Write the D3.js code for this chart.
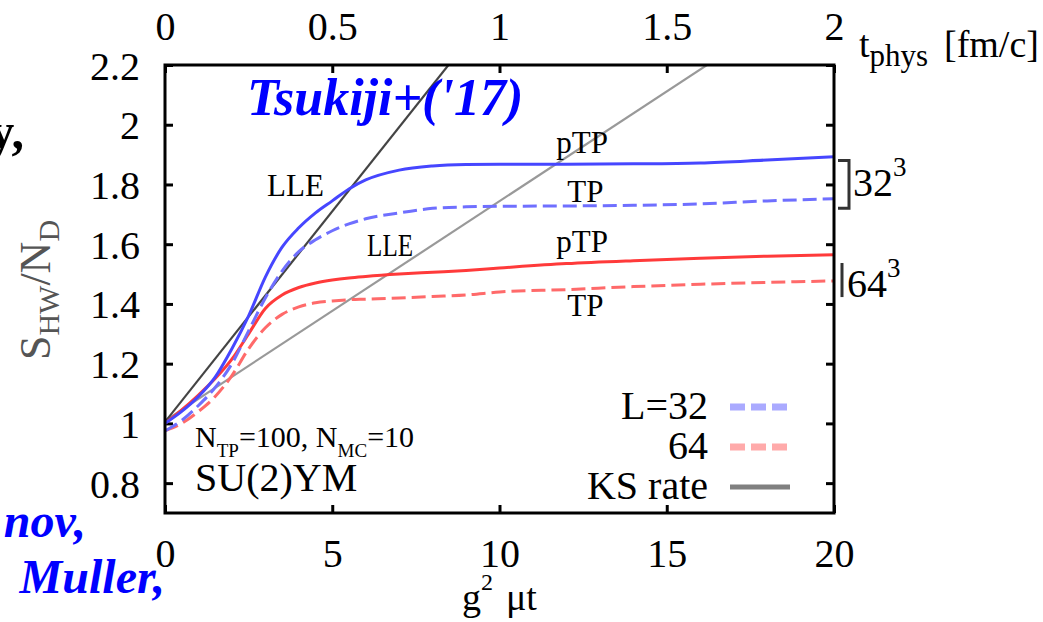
<!DOCTYPE html>
<html>
<head>
<meta charset="utf-8">
<script src="https://cdn.jsdelivr.net/npm/d3@7"></script>
<style>
  body { margin: 0; background: #fff; }
  text { font-family: "Liberation Serif", "DejaVu Serif", serif; }
</style>
</head>
<body>
<div id="chart"></div>
<script>
// g^2 mu t sample points shared by all four curves
var tVals = [0, 0.5, 1, 1.5, 2, 2.5, 3, 3.5, 4, 4.5, 5, 5.5, 6, 7, 8, 9, 10, 12, 14, 16, 18, 20];
var l32pTP = [1.0, 1.04, 1.09, 1.155, 1.25, 1.36, 1.49, 1.59, 1.655, 1.705, 1.745, 1.785, 1.815, 1.848, 1.862, 1.867, 1.868, 1.868, 1.869, 1.872, 1.882, 1.893];
var l32TP  = [0.975, 1.01, 1.06, 1.12, 1.2, 1.31, 1.42, 1.51, 1.575, 1.615, 1.645, 1.668, 1.685, 1.705, 1.72, 1.725, 1.727, 1.728, 1.73, 1.735, 1.745, 1.752];
var l64pTP = [1.0, 1.045, 1.095, 1.15, 1.215, 1.3, 1.385, 1.43, 1.455, 1.47, 1.48, 1.487, 1.492, 1.5, 1.506, 1.512, 1.52, 1.535, 1.545, 1.553, 1.56, 1.565];
var l64TP  = [0.975, 1.0, 1.04, 1.09, 1.16, 1.25, 1.32, 1.365, 1.39, 1.404, 1.41, 1.414, 1.416, 1.42, 1.425, 1.43, 1.44, 1.448, 1.458, 1.466, 1.472, 1.477];

// KS rate lines (straight), end points
var ksX  = [0, 20];
var ks32 = [1.005, 3.825];
var ks64 = [1.009, 2.479];

var xTicks = [0, 5, 10, 15, 20];
var xTopTicks = [0, 0.5, 1, 1.5, 2];
var yTicks = [0.8, 1, 1.2, 1.4, 1.6, 1.8, 2, 2.2];

var annoText = ["LLE", "LLE", "pTP", "TP", "pTP", "TP"];
var annoX = [3.9, 6.73, 12.47, 12.57, 12.47, 12.57];
var annoY = [1.76, 1.56, 1.907, 1.74, 1.573, 1.36];

var legendLabels = ["L=32", "64", "KS rate"];

var width = 1043, height = 622;
var pL = 165, pR = 834, pT = 65, pB = 513;

var svg = d3.select("#chart").append("svg")
    .attr("width", width)
    .attr("height", height);

svg.append("rect").attr("width", width).attr("height", height).attr("fill", "#fff");

var x = d3.scaleLinear().domain([0, 20]).range([pL, pR]);
var xTop = d3.scaleLinear().domain([0, 2]).range([pL, pR]);
var y = d3.scaleLinear().domain([0.7, 2.2]).range([pB, pT]);

svg.append("clipPath").attr("id", "plotclip")
  .append("rect")
    .attr("x", pL).attr("y", pT)
    .attr("width", pR - pL).attr("height", pB - pT);

var fmt = function(d) { return String(d); };

// axes
var gx = svg.append("g")
    .attr("transform", "translate(0," + pB + ")")
    .call(d3.axisBottom(x).tickValues(xTicks).tickFormat(fmt).tickSizeInner(-8).tickSizeOuter(0).tickPadding(26));
var gxTop = svg.append("g")
    .attr("transform", "translate(0," + pT + ")")
    .call(d3.axisTop(xTop).tickValues(xTopTicks).tickFormat(fmt).tickSizeInner(-8).tickSizeOuter(0).tickPadding(25));
var gy = svg.append("g")
    .attr("transform", "translate(" + pL + ",0)")
    .call(d3.axisLeft(y).tickValues(yTicks).tickFormat(fmt).tickSizeInner(-8).tickSizeOuter(0).tickPadding(25));
var gyRight = svg.append("g")
    .attr("transform", "translate(" + pR + ",0)")
    .call(d3.axisRight(y).tickValues(yTicks).tickFormat("").tickSizeInner(-8).tickSizeOuter(0));

[gx, gxTop, gy, gyRight].forEach(function(g) {
  g.select(".domain").remove();
  g.selectAll(".tick line").attr("stroke", "#000").attr("stroke-width", 3);
  g.selectAll(".tick text")
      .attr("fill", "#000")
      .style("font-size", "40px")
      .style("font-family", "'Liberation Serif', serif");
});
gy.selectAll(".tick text").attr("dy", "0.35em");

// curves
var plot = svg.append("g").attr("clip-path", "url(#plotclip)");

var line = d3.line()
    .x(function(d) { return x(d[0]); })
    .y(function(d) { return y(d[1]); })
    .curve(d3.curveMonotoneX);
var straight = d3.line()
    .x(function(d) { return x(d[0]); })
    .y(function(d) { return y(d[1]); });

function pairs(xs, ys) { return xs.map(function(v, i) { return [v, ys[i]]; }); }

plot.append("path").datum(pairs(ksX, ks64))
    .attr("d", straight)
    .attr("fill", "none").attr("stroke", "#999").attr("stroke-width", 2.2);
plot.append("path").datum(pairs(ksX, ks32))
    .attr("d", straight)
    .attr("fill", "none").attr("stroke", "#444").attr("stroke-width", 2.2);

var series = [
  { vals: l64TP,  color: "#ff6a6a", dash: "14,6" },
  { vals: l64pTP, color: "#ff3a3a", dash: null },
  { vals: l32TP,  color: "#6f6fff", dash: "14,6" },
  { vals: l32pTP, color: "#4646ff", dash: null }
];
series.forEach(function(s) {
  plot.append("path").datum(pairs(tVals, s.vals))
      .attr("d", line)
      .attr("fill", "none")
      .attr("stroke", s.color)
      .attr("stroke-width", 3)
      .attr("stroke-dasharray", s.dash);
});

// frame
svg.append("rect")
    .attr("x", pL).attr("y", pT)
    .attr("width", pR - pL).attr("height", pB - pT)
    .attr("fill", "none").attr("stroke", "#000").attr("stroke-width", 3);

// annotations on curves
annoText.forEach(function(t, i) {
  var tx = svg.append("text")
      .attr("x", x(annoX[i])).attr("y", y(annoY[i]))
      .attr("text-anchor", "middle")
      .style("font-size", "31px")
      .text(t);
  if (i === 1) tx.attr("textLength", 46).attr("lengthAdjust", "spacingAndGlyphs");
});

// N_TP, N_MC
var nt = svg.append("text").attr("x", x(0.9)).attr("y", y(0.92)).style("font-size", "30px");
nt.append("tspan").text("N");
nt.append("tspan").attr("dy", 10).style("font-size", "19px").text("TP");
nt.append("tspan").attr("dy", -10).text("=100, N");
nt.append("tspan").attr("dy", 10).style("font-size", "19px").text("MC");
nt.append("tspan").attr("dy", -10).text("=10");

svg.append("text").attr("x", x(0.9)).attr("y", y(0.773))
    .style("font-size", "40px").text("SU(2)YM");

// legend
var legColors = ["#aaaaff", "#ffaaaa", "#808080"];
var legDash = ["15,6", "15,6", null];
var legWidth = [7, 7, 5];
legendLabels.forEach(function(t, i) {
  var by = pB - 94 + i * 40;
  svg.append("text")
      .attr("x", pR - 126).attr("y", by)
      .attr("text-anchor", "end")
      .style("font-size", "40px")
      .text(t);
  svg.append("line")
      .attr("x1", pR - 104).attr("x2", pR - 44)
      .attr("y1", by - 12).attr("y2", by - 12)
      .attr("stroke", legColors[i])
      .attr("stroke-width", legWidth[i])
      .attr("stroke-dasharray", legDash[i]);
});

// brackets for lattice sizes
var bx = pR + 15;
svg.append("path")
    .attr("d", "M" + (pR + 4) + "," + y(1.88) + "H" + bx + "V" + y(1.72) + "H" + (pR + 4))
    .attr("fill", "none").attr("stroke", "#333").attr("stroke-width", 3);
var t32 = svg.append("text").attr("x", bx + 4).attr("y", y(1.76)).style("font-size", "40px");
t32.append("tspan").text("32");
t32.append("tspan").attr("dy", -20).style("font-size", "27px").text("3");

svg.append("path")
    .attr("d", "M" + (pR + 8) + "," + y(1.537) + "V" + y(1.423))
    .attr("fill", "none").attr("stroke", "#333").attr("stroke-width", 3);
var t64 = svg.append("text").attr("x", pR + 13).attr("y", y(1.423)).style("font-size", "40px");
t64.append("tspan").text("64");
t64.append("tspan").attr("dy", -20).style("font-size", "27px").text("3");

// axis titles
var xt = svg.append("text").attr("x", 462).attr("y", 610).style("font-size", "38px");
xt.append("tspan").text("g");
xt.append("tspan").attr("dy", -20).style("font-size", "24px").text("2");
xt.append("tspan").attr("x", 506).attr("dy", 20).text("\u03bct");

var tp = svg.append("text").attr("x", 859).attr("y", 57).style("font-size", "38px");
tp.append("tspan").text("t");
tp.append("tspan").attr("dy", 9).style("font-size", "31px").text("phys");
tp.append("tspan").attr("x", 944).attr("dy", -9).text("[fm/c]");

var yl = svg.append("text")
    .attr("transform", "translate(50,290) rotate(-90)")
    .attr("text-anchor", "middle")
    .attr("fill", "#555")
    .style("font-size", "44px");
yl.append("tspan").text("S");
yl.append("tspan").attr("dy", 9).style("font-size", "30px").text("HW");
yl.append("tspan").attr("dy", -9).text("/N");
yl.append("tspan").attr("dy", 9).style("font-size", "30px").text("D");

// surrounding slide text
svg.append("text").attr("x", 247).attr("y", 115)
    .attr("fill", "#0000ff")
    .style("font-size", "52px").style("font-weight", "bold").style("font-style", "italic")
    .text("Tsukiji+('17)");
svg.append("text").attr("x", 24).attr("y", 148).attr("text-anchor", "end")
    .style("font-size", "50px").style("font-weight", "bold")
    .text("y,");
svg.append("text").attr("x", 86).attr("y", 537).attr("text-anchor", "end")
    .attr("fill", "#0000ff")
    .style("font-size", "48px").style("font-weight", "bold").style("font-style", "italic")
    .text("nov,");
svg.append("text").attr("x", 165).attr("y", 593).attr("text-anchor", "end")
    .attr("fill", "#0000ff")
    .style("font-size", "48px").style("font-weight", "bold").style("font-style", "italic")
    .text("Muller,");
</script>
</body>
</html>
